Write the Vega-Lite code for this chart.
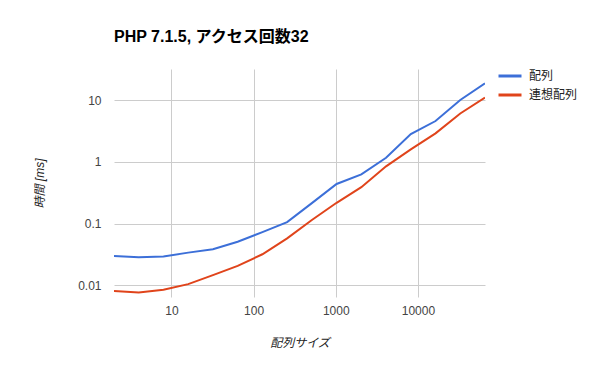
{
  "$schema": "https://vega.github.io/schema/vega-lite/v6.json",
  "autosize": "none",
  "width": 371,
  "height": 228,
  "padding": {"left": 114, "top": 69, "right": 112, "bottom": 69},
  "background": "white",
  "title": {
    "text": "PHP 7.1.5, アクセス回数32",
    "anchor": "start",
    "frame": "group",
    "font": "Liberation Sans, Noto Sans CJK JP, sans-serif",
    "fontSize": 16,
    "fontWeight": "bold",
    "color": "#000000",
    "offset": 18
  },
  "config": {
    "view": {"stroke": null},
    "font": "Liberation Sans, Noto Sans CJK JP, sans-serif"
  },
  "data": {
    "values": [
      {"size": 2, "series": "配列", "time": 0.030},
      {"size": 4, "series": "配列", "time": 0.0285},
      {"size": 8, "series": "配列", "time": 0.0295},
      {"size": 16, "series": "配列", "time": 0.034},
      {"size": 32, "series": "配列", "time": 0.0385},
      {"size": 64, "series": "配列", "time": 0.051},
      {"size": 128, "series": "配列", "time": 0.073},
      {"size": 256, "series": "配列", "time": 0.106},
      {"size": 512, "series": "配列", "time": 0.215},
      {"size": 1024, "series": "配列", "time": 0.44},
      {"size": 2048, "series": "配列", "time": 0.63},
      {"size": 4096, "series": "配列", "time": 1.17},
      {"size": 8192, "series": "配列", "time": 2.82},
      {"size": 16384, "series": "配列", "time": 4.6},
      {"size": 32768, "series": "配列", "time": 10.1},
      {"size": 65536, "series": "配列", "time": 18.7},
      {"size": 2, "series": "連想配列", "time": 0.0081},
      {"size": 4, "series": "連想配列", "time": 0.0077},
      {"size": 8, "series": "連想配列", "time": 0.0085},
      {"size": 16, "series": "連想配列", "time": 0.0105},
      {"size": 32, "series": "連想配列", "time": 0.0147},
      {"size": 64, "series": "連想配列", "time": 0.0207},
      {"size": 128, "series": "連想配列", "time": 0.032},
      {"size": 256, "series": "連想配列", "time": 0.058},
      {"size": 512, "series": "連想配列", "time": 0.115},
      {"size": 1024, "series": "連想配列", "time": 0.218},
      {"size": 2048, "series": "連想配列", "time": 0.39},
      {"size": 4096, "series": "連想配列", "time": 0.85},
      {"size": 8192, "series": "連想配列", "time": 1.6},
      {"size": 16384, "series": "連想配列", "time": 2.9},
      {"size": 32768, "series": "連想配列", "time": 6.1},
      {"size": 65536, "series": "連想配列", "time": 11.0}
    ]
  },
  "mark": {"type": "line", "strokeWidth": 2, "clip": true},
  "encoding": {
    "x": {
      "field": "size",
      "type": "quantitative",
      "scale": {"type": "log", "domain": [2, 65536], "nice": false},
      "axis": {
        "values": [10, 100, 1000, 10000],
        "format": "d",
        "domain": false,
        "ticks": false,
        "grid": true,
        "gridColor": "#cccccc",
        "gridOpacity": 1,
        "labelFontSize": 12,
        "labelColor": "#444444",
        "labelPadding": 8,
        "title": "配列サイズ",
        "titleFontSize": 12,
        "titleFontStyle": "italic",
        "titleFontWeight": "normal",
        "titleColor": "#222222",
        "titleX": 185.5,
        "titleY": 45,
        "titleBaseline": "middle",
        "titleAlign": "center"
      }
    },
    "y": {
      "field": "time",
      "type": "quantitative",
      "scale": {"type": "log", "domain": [0.0065, 32], "nice": false},
      "axis": {
        "values": [0.01, 0.1, 1, 10],
        "format": "~g",
        "domain": false,
        "ticks": false,
        "grid": true,
        "gridColor": "#cccccc",
        "gridOpacity": 1,
        "labelFontSize": 12,
        "labelColor": "#444444",
        "labelPadding": 13,
        "title": "時間 [ms]",
        "titleFontSize": 12,
        "titleFontStyle": "italic",
        "titleFontWeight": "normal",
        "titleColor": "#222222",
        "titleAngle": -90,
        "titleX": -75,
        "titleY": 114,
        "titleBaseline": "middle",
        "titleAlign": "center"
      }
    },
    "color": {
      "field": "series",
      "type": "nominal",
      "scale": {"domain": ["配列", "連想配列"], "range": ["#3c6fd8", "#e0441b"]},
      "legend": {
        "title": null,
        "orient": "none",
        "legendX": 383,
        "legendY": -6,
        "symbolType": "stroke",
        "symbolSize": 529,
        "symbolStrokeWidth": 3,
        "labelFontSize": 12,
        "labelColor": "#222222",
        "labelOffset": 6,
        "rowPadding": -4.5,
        "labelLimit": 200
      }
    }
  }
}
